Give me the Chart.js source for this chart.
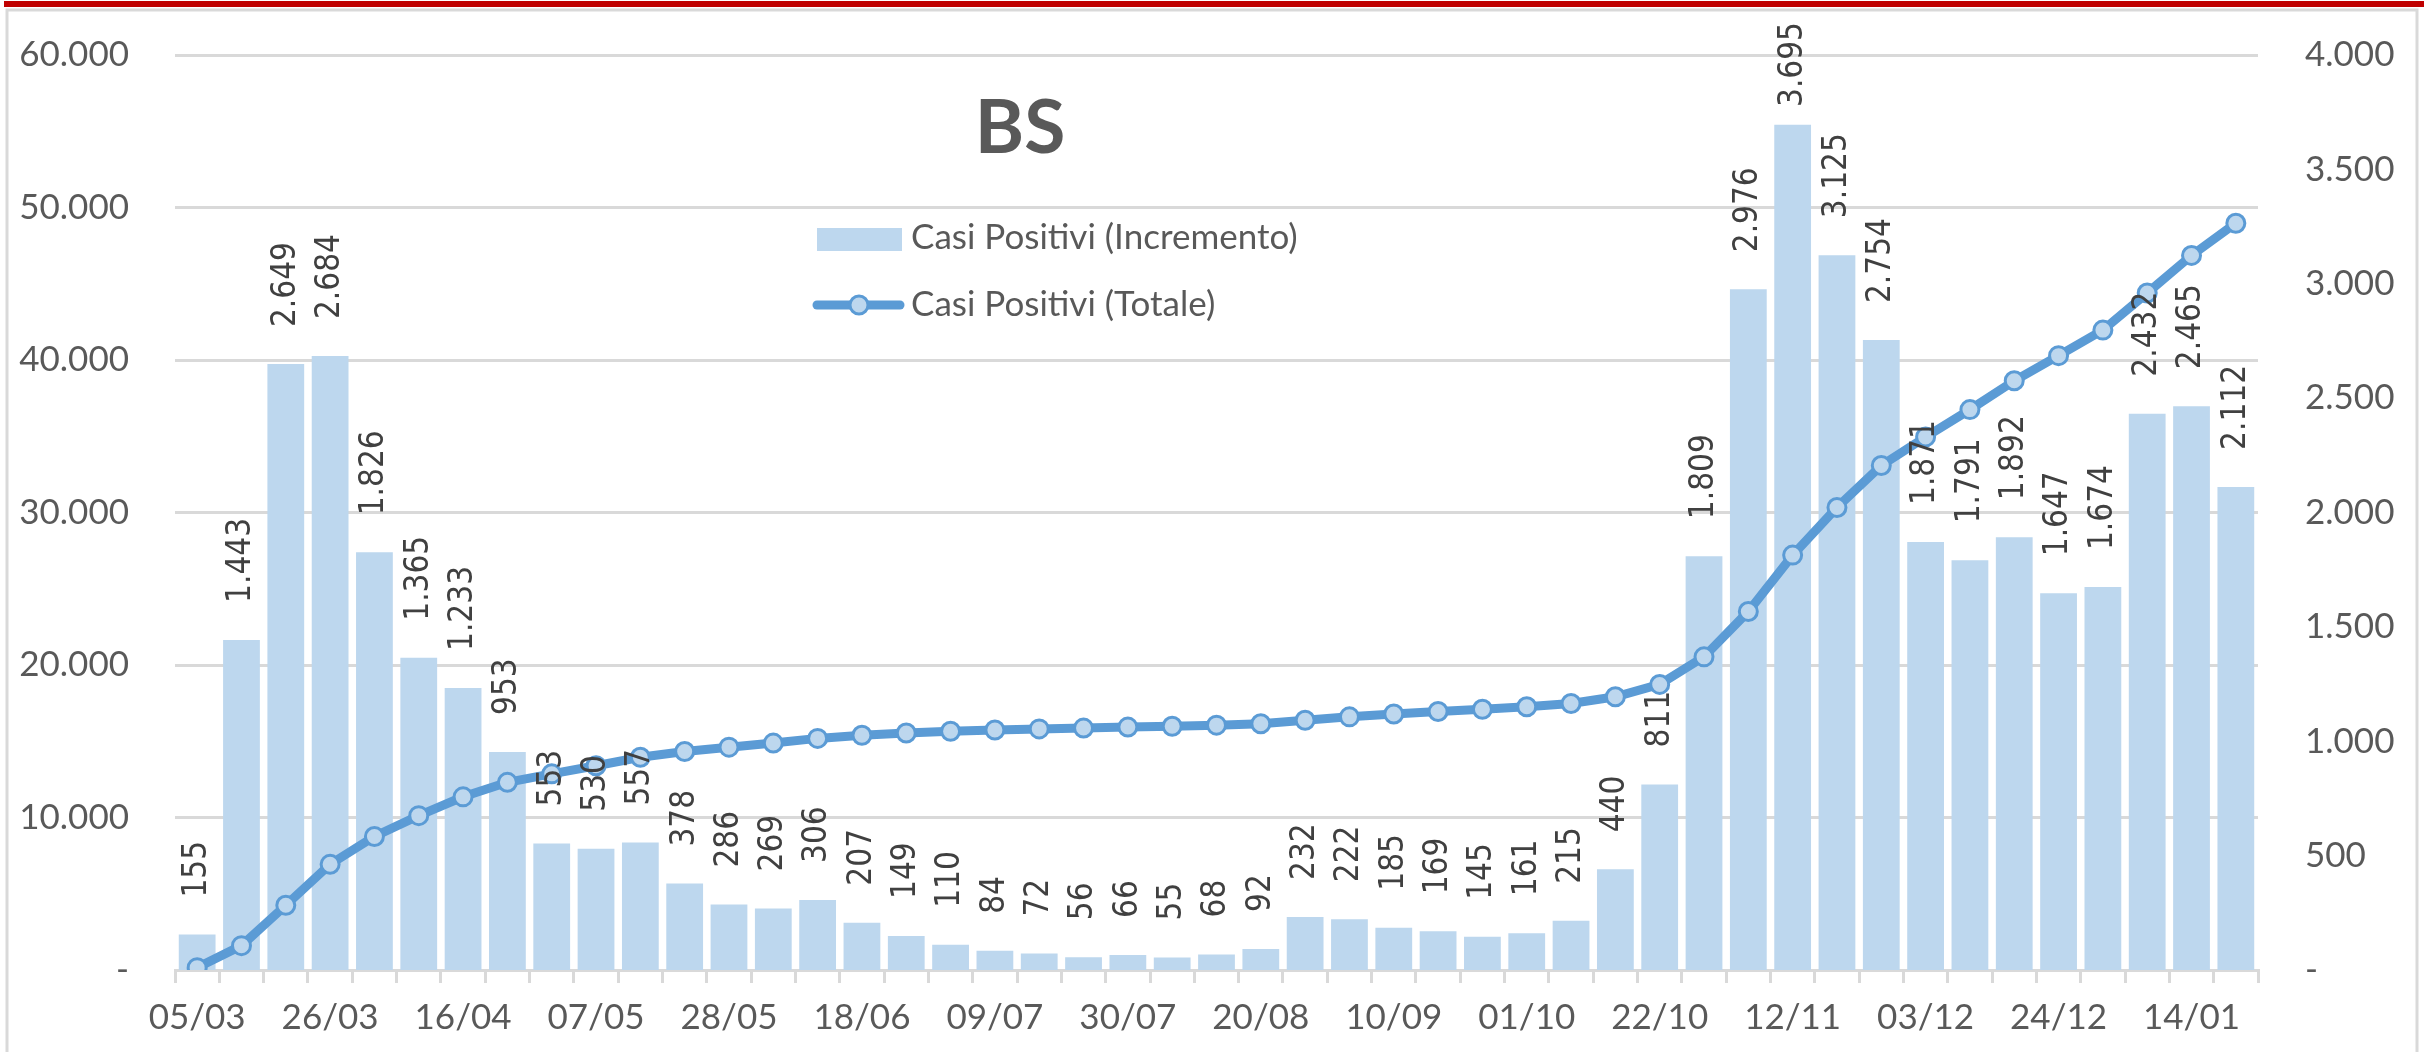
<!DOCTYPE html>
<html lang="it">
<head>
<meta charset="utf-8">
<title>BS - Casi Positivi</title>
<script src="https://cdn.jsdelivr.net/npm/chart.js@4.4.1/dist/chart.umd.min.js"></script>
<style>
  html, body { margin: 0; padding: 0; background: #fff; }
  canvas { display: block; }
</style>
</head>
<body>
<canvas id="bsChart" width="2435" height="1052"></canvas>
<script>
// Weekly dates (one bar per week)
const weeks = [
  '05/03', '12/03', '19/03', '26/03', '02/04', '09/04', '16/04', '23/04', '30/04',
  '07/05', '14/05', '21/05', '28/05', '04/06', '11/06', '18/06', '25/06', '02/07',
  '09/07', '16/07', '23/07', '30/07', '06/08', '13/08', '20/08', '27/08', '03/09',
  '10/09', '17/09', '24/09', '01/10', '08/10', '15/10', '22/10', '29/10', '05/11',
  '12/11', '19/11', '26/11', '03/12', '10/12', '17/12', '24/12', '31/12', '07/01',
  '14/01', '21/01'
];
const labelEvery = 3;

// Casi Positivi (Incremento) - right axis
const incremento = [
  155, 1443, 2649, 2684, 1826, 1365, 1233, 953, 553, 530, 557, 378, 286, 269, 306,
  207, 149, 110, 84, 72, 56, 66, 55, 68, 92, 232, 222, 185, 169, 145, 161, 215,
  440, 811, 1809, 2976, 3695, 3125, 2754, 1871, 1791, 1892, 1647, 1674, 2432,
  2465, 2112
];

// Casi Positivi (Totale) - left axis
const totale = [
  155, 1598, 4247, 6931, 8757, 10122, 11355, 12308, 12861, 13391, 13948, 14326,
  14612, 14881, 15187, 15394, 15543, 15653, 15737, 15809, 15865, 15931, 15986,
  16054, 16146, 16378, 16600, 16785, 16954, 17099, 17260, 17475, 17915, 18726,
  20535, 23511, 27206, 30331, 33085, 34956, 36747, 38639, 40286, 41960, 44392,
  46857, 48969
];

const totMax = 60000, totStep = 10000;
const incMax = 4000, incStep = 500;

const seriesNames = ['Casi Positivi (Incremento)', 'Casi Positivi (Totale)'];
const chartTitle = 'BS';

const barColor = '#BDD7EE';
const lineColor = '#5B9BD5';
const textColor = '#595959';
const gridColor = '#D9D9D9';
const tickFont = { family: 'Lato, "Open Sans", sans-serif', size: 35 };

// 1234 -> "1.234", 0 -> "-"
function fmtNum(v) {
  if (v === 0) return '-';
  return String(v).replace(/\B(?=(\d{3})+(?!\d))/g, '.');
}

// frame + red band like the original sheet
const framePlugin = {
  id: 'frame',
  beforeDraw(chart) {
    const ctx = chart.ctx;
    ctx.save();
    ctx.fillStyle = '#fff';
    ctx.fillRect(0, 0, chart.width, chart.height);
    ctx.fillStyle = '#C00000';
    ctx.fillRect(4, 1, 2420, 6);
    ctx.strokeStyle = gridColor;
    ctx.lineWidth = 3;
    ctx.strokeRect(7, 10, 2410, chart.height + 10);
    ctx.restore();
  }
};

// rotated value labels above the bars
const barLabelsPlugin = {
  id: 'barLabels',
  afterDatasetsDraw(chart) {
    const idx = chart.data.datasets.findIndex(d => d.type === 'bar');
    const meta = chart.getDatasetMeta(idx);
    const ctx = chart.ctx;
    ctx.save();
    ctx.font = '29.7px "DejaVu Sans", sans-serif';
    ctx.fillStyle = '#404040';
    ctx.textAlign = 'left';
    ctx.textBaseline = 'middle';
    meta.data.forEach((bar, i) => {
      const txt = fmtNum(incremento[i]);
      const w = ctx.measureText(txt).width;
      let start = bar.y - 37;
      if (start - w < 22) start = 22 + w;
      ctx.save();
      ctx.translate(bar.x, start);
      ctx.rotate(-Math.PI / 2);
      ctx.scale(1, 1.15);
      ctx.fillText(txt, 0, 0);
      ctx.restore();
    });
    ctx.restore();
  }
};

// title "BS" and the legend inside the plot
const titleLegendPlugin = {
  id: 'titleLegend',
  afterDraw(chart) {
    const ctx = chart.ctx;
    ctx.save();
    ctx.fillStyle = textColor;
    ctx.font = 'bold 75px Lato, sans-serif';
    ctx.textAlign = 'center';
    ctx.textBaseline = 'alphabetic';
    ctx.fillText(chartTitle, 1020, 153);

    const barDs = chart.data.datasets.find(d => d.type === 'bar');
    const lineDs = chart.data.datasets.find(d => d.type === 'line');

    ctx.fillStyle = barDs.backgroundColor;
    ctx.fillRect(817, 228, 85, 23);

    ctx.strokeStyle = lineDs.borderColor;
    ctx.lineWidth = lineDs.borderWidth;
    ctx.lineCap = 'round';
    ctx.beginPath();
    ctx.moveTo(817, 305);
    ctx.lineTo(900, 305);
    ctx.stroke();
    ctx.beginPath();
    ctx.arc(859, 305, lineDs.pointRadius, 0, Math.PI * 2);
    ctx.fillStyle = lineDs.pointBackgroundColor;
    ctx.fill();
    ctx.lineWidth = lineDs.pointBorderWidth;
    ctx.strokeStyle = lineDs.pointBorderColor;
    ctx.stroke();

    ctx.fillStyle = textColor;
    ctx.font = '35px Lato, sans-serif';
    ctx.textAlign = 'left';
    ctx.textBaseline = 'middle';
    ctx.fillText(barDs.label, 911, 238);
    ctx.fillText(lineDs.label, 911, 305);
    ctx.restore();
  }
};

const ctx = document.getElementById('bsChart').getContext('2d');
const bsChart = new Chart(ctx, {
  type: 'bar',
  data: {
    labels: weeks,
    datasets: [
      {
        type: 'line',
        label: seriesNames[1],
        data: totale,
        yAxisID: 'yTot',
        borderColor: lineColor,
        borderWidth: 9,
        pointRadius: 9,
        pointBackgroundColor: barColor,
        pointBorderColor: lineColor,
        pointBorderWidth: 3,
        tension: 0,
        order: 0
      },
      {
        type: 'bar',
        label: seriesNames[0],
        data: incremento,
        yAxisID: 'yInc',
        backgroundColor: barColor,
        barPercentage: 0.83,
        categoryPercentage: 1,
        order: 1
      }
    ]
  },
  options: {
    responsive: false,
    devicePixelRatio: 1,
    animation: false,
    layout: { padding: { top: 55, left: 0, right: 0, bottom: 0 } },
    plugins: {
      legend: { display: false },
      title: { display: false },
      tooltip: { enabled: false }
    },
    scales: {
      x: {
        offset: true,
        grid: {
          display: true,
          offset: true,
          drawOnChartArea: false,
          drawTicks: true,
          tickLength: 13,
          color: gridColor,
          lineWidth: 3
        },
        border: { display: true, color: gridColor, width: 3 },
        ticks: {
          autoSkip: false,
          maxRotation: 0,
          padding: 14,
          color: textColor,
          font: tickFont,
          callback: (val, i) => (i % labelEvery === 0 ? weeks[i] : '')
        },
        afterFit: (scale) => { scale.height = 82; }
      },
      yTot: {
        position: 'left',
        min: 0,
        max: totMax,
        // invisible tick marks keep the labels away from the plot
        grid: { color: gridColor, lineWidth: 3, drawTicks: true, tickLength: 40, tickColor: 'rgba(0,0,0,0)' },
        border: { display: false },
        ticks: {
          stepSize: totStep,
          padding: 6,
          color: textColor,
          font: tickFont,
          callback: (v) => fmtNum(v)
        },
        afterFit: (scale) => { scale.width = 175; }
      },
      yInc: {
        position: 'right',
        min: 0,
        max: incMax,
        grid: { display: false, drawTicks: true, tickLength: 41 },
        border: { display: false },
        ticks: {
          stepSize: incStep,
          padding: 6,
          color: textColor,
          font: tickFont,
          callback: (v) => fmtNum(v)
        },
        afterFit: (scale) => { scale.width = 177; }
      }
    }
  },
  plugins: [framePlugin, barLabelsPlugin, titleLegendPlugin]
});
</script>
</body>
</html>
